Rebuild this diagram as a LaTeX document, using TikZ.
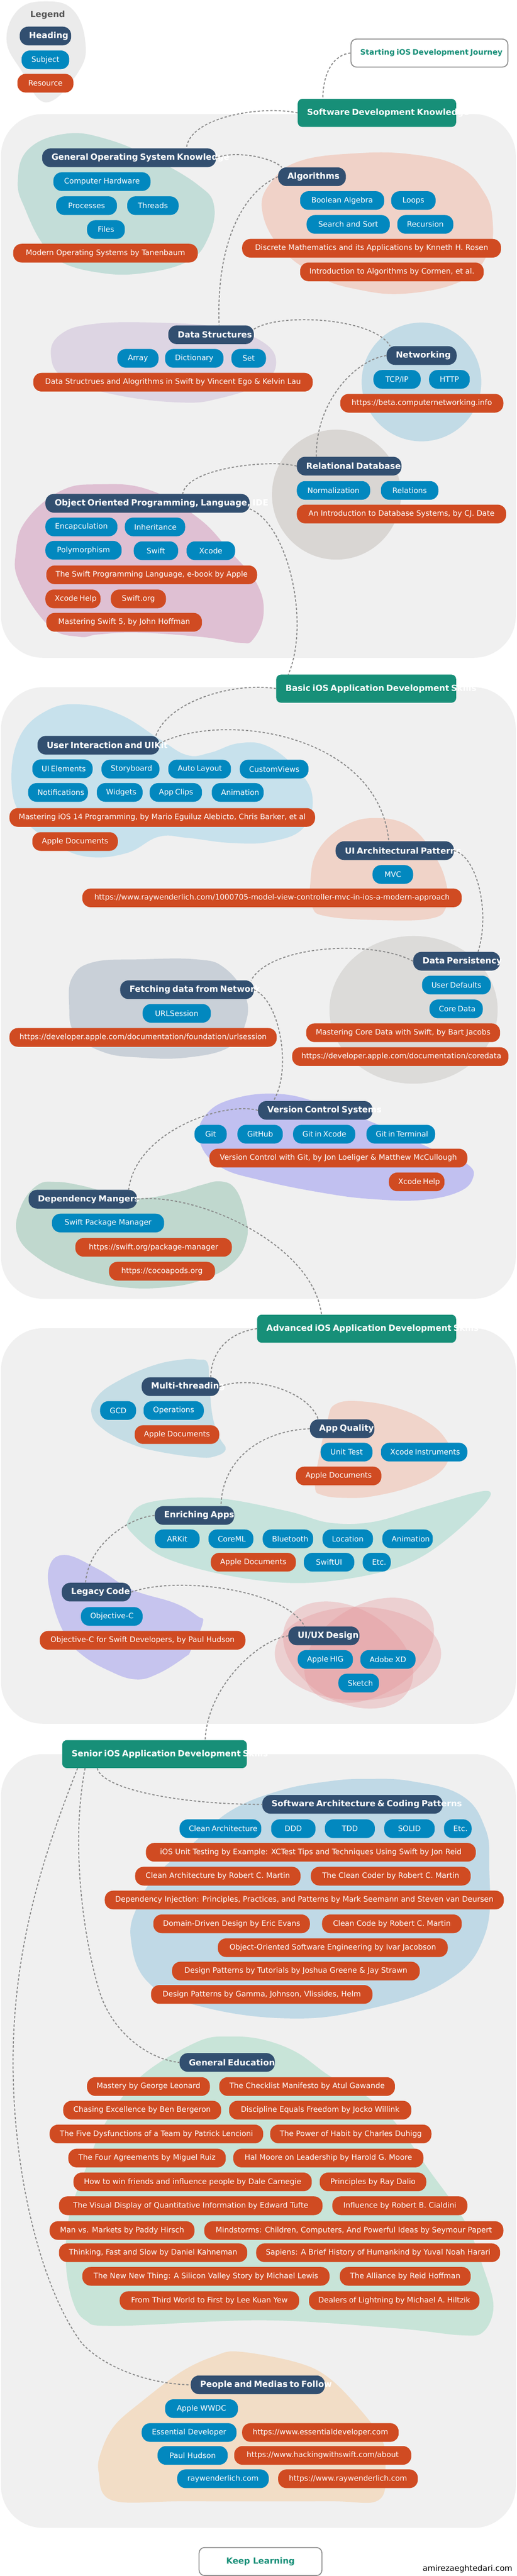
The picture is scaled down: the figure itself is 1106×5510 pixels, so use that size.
\documentclass[tikz,border=0pt]{standalone}
\usepackage{fontspec}
\setmainfont{DejaVu Sans}
\definecolor{secbg}{HTML}{F0F0F0}
\definecolor{legbg}{HTML}{EBEBEB}
\definecolor{legtxt}{HTML}{555555}
\definecolor{hdcol}{HTML}{324F70}
\definecolor{sjcol}{HTML}{0288BF}
\definecolor{rscol}{HTML}{D04B22}
\definecolor{mscol}{HTML}{178F78}
\definecolor{obcol}{HTML}{8C8C8C}
\definecolor{conncol}{HTML}{8A8A8A}
\definecolor{cOS}{HTML}{C3DDD8}
\definecolor{cAlg}{HTML}{F0D2C8}
\definecolor{cDS}{HTML}{DDD5E3}
\definecolor{cNet}{HTML}{C2DBE6}
\definecolor{cRdb}{HTML}{D9D6D3}
\definecolor{cOop}{HTML}{DFC0D3}
\definecolor{cUI}{HTML}{C7E1EC}
\definecolor{cUIA}{HTML}{F0D3C8}
\definecolor{cFet}{HTML}{C9D0D8}
\definecolor{cDP}{HTML}{DCDBD9}
\definecolor{cVCS}{HTML}{C1C0F0}
\definecolor{cDep}{HTML}{C0D8CE}
\definecolor{cMT}{HTML}{C5DDE5}
\definecolor{cAQ}{HTML}{F0D4CA}
\definecolor{cEn}{HTML}{C6E3DC}
\definecolor{cLC}{HTML}{C6C4EE}
\definecolor{cUX}{HTML}{E5959A}
\definecolor{cSA}{HTML}{C0D9E6}
\definecolor{cGE}{HTML}{C8E4D8}
\definecolor{cPP}{HTML}{F2DDC6}
\newcommand\myfs[1]{\fontsize{#1}{#1}\selectfont}
\newcommand\pl[6]{\node[#2] (#1) at (#3,#4) {\hbox to #5pt{\hskip 20pt\hfil #6\hfil\hskip 20pt}};}
\begin{document}
\begin{tikzpicture}[x=1pt,y=-1pt,
  pillbase/.style={anchor=west, rounded corners=18pt, minimum height=40pt, inner xsep=0pt, inner ysep=0pt, text=white, font=\myfs{16}},
  hd/.style={pillbase, fill=hdcol, font=\bfseries\myfs{18}},
  sj/.style={pillbase, fill=sjcol},
  rs/.style={pillbase, fill=rscol},
  ms/.style={anchor=west, rounded corners=10pt, minimum height=60pt, inner xsep=0pt, inner ysep=0pt, fill=mscol, text=white, font=\bfseries\myfs{18}},
  ob/.style={anchor=west, rounded corners=12pt, minimum height=60pt, inner xsep=0pt, inner ysep=0pt, fill=white, draw=obcol, line width=2pt, text=mscol, font=\bfseries\myfs{16}},
  conn/.style={draw=conncol, line width=2.2pt, dash pattern=on 5pt off 4pt}]
\fill[white] (0,0) rectangle (1106,5510);
\useasboundingbox (0,0) rectangle (1106,5510);
% legend
\fill[legbg] plot[smooth cycle, tension=0.7] coordinates {(99,3) (155,20) (182,85) (170,150) (99,219) (45,150) (14,85) (40,20)};
% sections
\fill[secbg, rounded corners=90pt] (2,244) rectangle (1104,1407);
\fill[secbg, rounded corners=90pt] (2,1470) rectangle (1104,2778);
\fill[secbg, rounded corners=90pt] (2,2841) rectangle (1104,3687);
\fill[secbg, rounded corners=90pt] (2,3752) rectangle (1104,5407);
% blobs section 1
\fill[cOS] plot[smooth cycle, tension=0.7] coordinates {(141,286) (230,298) (330,340) (423,395) (458,440) (445,510) (400,560) (300,585) (211,583) (130,560) (90,520) (55,450) (38,390) (60,320)};
\fill[cAlg] plot[smooth cycle, tension=0.7] coordinates {(561,450) (580,390) (640,345) (760,328) (880,330) (980,355) (1035,410) (1054,470) (1045,540) (990,600) (868,628) (760,618) (680,590) (600,530)};
\fill[cDS] plot[smooth cycle, tension=0.7] coordinates {(109,760) (130,715) (200,693) (330,690) (470,700) (560,730) (591,775) (560,820) (470,852) (388,861) (250,845) (140,810)};
\fill[cNet] (902,817) ellipse [x radius=128pt, y radius=127pt];
\fill[cRdb] (720,1058) ellipse [x radius=138pt, y radius=139pt];
\fill[cOop] plot[smooth cycle, tension=0.7] coordinates {(34,1180) (56,1113) (130,1050) (211,1036) (317,1047) (423,1107) (493,1180) (549,1247) (564,1313) (542,1367) (514,1375) (437,1363) (296,1353) (211,1357) (169,1362) (106,1340) (42,1247)};
% blobs section 2
\fill[cUI] plot[smooth cycle, tension=0.7] coordinates {(25,1680) (40,1580) (100,1520) (176,1507) (260,1530) (340,1580) (400,1615) (450,1610) (510,1590) (570,1595) (630,1640) (668,1700) (650,1770) (580,1800) (494,1803) (400,1792) (339,1790) (270,1825) (183,1832) (110,1800) (50,1750)};
\fill[cUIA] plot[smooth cycle, tension=0.7] coordinates {(811,1750) (880,1770) (930,1830) (955,1890) (955,1940) (920,1965) (811,1968) (700,1960) (668,1940) (664,1890) (680,1820) (740,1765)};
\fill[cFet] plot[smooth cycle, tension=0.7] coordinates {(148,2150) (155,2090) (200,2058) (300,2052) (420,2052) (480,2070) (525,2130) (525,2190) (490,2240) (400,2262) (300,2262) (220,2250) (160,2210)};
\fill[cDP] (885,2160) ellipse [x radius=180pt, y radius=158pt];
\fill[cVCS] plot[smooth cycle, tension=0.7] coordinates {(427,2440) (440,2385) (500,2350) (600,2340) (700,2365) (820,2410) (930,2460) (1000,2490) (1012,2520) (980,2550) (900,2567) (800,2565) (700,2553) (560,2525) (470,2495)};
\fill[cDep] plot[smooth cycle, tension=0.7] coordinates {(37,2640) (45,2580) (80,2535) (120,2528) (170,2535) (230,2550) (300,2563) (380,2550) (430,2535) (473,2527) (505,2545) (525,2600) (528,2650) (500,2700) (440,2735) (360,2753) (260,2753) (160,2730) (80,2690)};
% blobs section 3
\fill[cMT] plot[smooth cycle, tension=0.7] coordinates {(423,2908) (444,2915) (448,2960) (455,3030) (470,3075) (483,3100) (460,3115) (423,3117) (340,3105) (282,3089) (225,3060) (196,3025) (210,2985) (260,2950) (330,2920) (390,2908)};
\fill[cAQ] plot[smooth cycle, tension=0.7] coordinates {(719,3003) (780,2998) (860,3015) (920,3045) (955,3080) (963,3110) (940,3150) (880,3180) (800,3200) (741,3204) (690,3198) (674,3180) (682,3120) (700,3040)};
\fill[cEn] plot[smooth cycle, tension=0.6] coordinates {(275,3250) (317,3214) (458,3204) (614,3232) (705,3257) (800,3255) (917,3221) (1043,3189) (1023,3232) (917,3321) (811,3364) (649,3386) (494,3371) (353,3332) (282,3279)};
\fill[cLC] plot[smooth cycle, tension=0.7] coordinates {(138,3326) (211,3357) (282,3400) (374,3429) (423,3457) (434,3471) (409,3529) (395,3545) (338,3580) (289,3592) (232,3573) (176,3540) (141,3500) (113,3429) (104,3357)};
\fill[cUX, opacity=0.35] (766,3537) ellipse [x radius=178pt, y radius=100pt];
\fill[cUX, opacity=0.35, rotate around={30:(790,3530)}] (790,3530) ellipse [x radius=150pt, y radius=97pt];
\fill[cUX, opacity=0.35, rotate around={-30:(745,3540)}] (745,3540) ellipse [x radius=150pt, y radius=100pt];
% blobs section 4
\fill[cSA] plot[smooth cycle, tension=0.7] coordinates {(786,3805) (881,3810) (987,3840) (1037,3907) (1047,3990) (1037,4140) (952,4240) (776,4300) (607,4317) (423,4290) (317,4240) (280,4147) (296,4073) (338,4007) (416,3940) (494,3873) (599,3830) (705,3810)};
\fill[cGE] plot[smooth cycle, tension=0.6] coordinates {(494,4356) (564,4363) (635,4390) (705,4440) (783,4483) (846,4540) (917,4640) (994,4750) (1035,4853) (1056,4933) (1035,4987) (987,4995) (846,4980) (564,4963) (247,4975) (183,4963) (155,4920) (141,4840) (148,4740) (183,4640) (226,4540) (303,4440) (423,4367)};
\fill[cPP] plot[smooth cycle, tension=0.6] coordinates {(511,5030) (635,5053) (705,5087) (776,5160) (818,5220) (825,5270) (811,5347) (700,5350) (400,5350) (240,5348) (211,5287) (218,5240) (246,5187) (303,5137) (388,5073) (458,5040)};
% legend nodes
\node[font=\bfseries\myfs{18}, text=legtxt] (legt) at (102,32) {Legend};
\pl{lh}{hd}{42}{77}{110}{Heading}
\pl{ls}{sj}{46}{128}{102}{Subject}
\pl{lr}{rs}{37}{178}{120}{Resource}
% milestones
\pl{sij}{ob}{750}{113.5}{336}{Starting iOS Development Journey}
\pl{sdk}{ms}{637}{241.5}{339}{Software Development Knowledge}
\pl{basic}{ms}{591}{1473}{385}{Basic iOS Application Development Skills}
\pl{adv}{ms}{550}{2842}{426}{Advanced iOS Application Development Skills}
\pl{sen}{ms}{133}{3752}{395}{Senior iOS Application Development Skills}
\pl{kl}{ob, font=\bfseries\myfs{18}}{425}{5479}{263}{Keep Learning}
% section 1
\pl{gos}{hd}{90}{337.5}{372}{General Operating System Knowledge}
\pl{ch}{sj}{114}{388.5}{208}{Computer Hardware}
\pl{proc}{sj}{120}{440}{130}{Processes}
\pl{thr}{sj}{272}{440}{110}{Threads}
\pl{files}{sj}{186}{491}{81}{Files}
\pl{mos}{rs}{28}{541.5}{395}{Modern Operating Systems by Tanenbaum}
\pl{alg}{hd}{595}{378}{145}{Algorithms}
\pl{ba}{sj}{642}{429}{180}{Boolean Algebra}
\pl{loops}{sj}{837}{429}{95}{Loops}
\pl{ss}{sj}{656}{480}{178}{Search and Sort}
\pl{rec}{sj}{850}{480}{120}{Recursion}
\pl{dm}{rs}{518}{531}{554}{Discrete Mathematics and its Applications by Knneth H. Rosen}
\pl{ita}{rs}{642}{581.5}{393}{Introduction to Algorithms by Cormen, et al.}
\pl{ds}{hd}{360}{716}{183}{Data Structures}
\pl{arr}{sj}{251}{766.5}{88}{Array}
\pl{dict}{sj}{353}{766.5}{125}{Dictionary}
\pl{set}{sj}{495}{766.5}{74}{Set}
\pl{dsb}{rs}{71}{817.5}{598}{Data Structrues and Alogrithms in Swift by Vincent Ego \& Kelvin Lau}
\pl{net}{hd}{827}{760.5}{150}{Networking}
\pl{tcp}{sj}{799}{811.5}{101}{TCP/IP}
\pl{http}{sj}{918}{811.5}{87}{HTTP}
\pl{cni}{rs}{728}{862.5}{349}{https://beta.computernetworking.info}
\pl{rdb}{hd}{635}{997}{224}{Relational Database}
\pl{norm}{sj}{635}{1049}{157}{Normalization}
\pl{rel}{sj}{815}{1049}{123}{Relations}
\pl{idb}{rs}{635}{1099.5}{448}{An Introduction to Database Systems, by CJ. Date}
\pl{oop}{hd}{97}{1076.5}{437}{Object Oriented Programming, Language, IDE}
\pl{enc}{sj}{97}{1127}{154}{Encapculation}
\pl{inh}{sj}{267}{1127}{129}{Inheritance}
\pl{poly}{sj}{97}{1177}{163}{Polymorphism}
\pl{swift}{sj}{286}{1178}{95}{Swift}
\pl{xcode}{sj}{399}{1178}{104}{Xcode}
\pl{tspl}{rs}{99}{1229.5}{451}{The Swift Programming Language, e-book by Apple}
\pl{xhA}{rs}{97}{1281}{118}{Xcode Help}
\pl{sorg}{rs}{237}{1281}{118}{Swift.org}
\pl{msf}{rs}{99}{1331}{333}{Mastering Swift 5, by John Hoffman}
% section 2
\pl{uik}{hd}{80}{1594}{261}{User Interaction and UIKit}
\pl{uie}{sj}{69}{1644.5}{129}{UI Elements}
\pl{sb}{sj}{217}{1645}{124}{Storyboard}
\pl{al}{sj}{360}{1645}{134}{Auto Layout}
\pl{cv}{sj}{513}{1645}{147}{CustomViews}
\pl{notif}{sj}{60}{1695}{128}{Notifications}
\pl{wid}{sj}{207}{1695}{98}{Widgets}
\pl{clips}{sj}{320}{1695}{112}{App Clips}
\pl{animA}{sj}{453}{1695}{111}{Animation}
\pl{mios}{rs}{20}{1748.5}{654}{Mastering iOS 14 Programming, by Mario Eguiluz Alebicto, Chris Barker, et al}
\pl{adA}{rs}{69}{1800}{183}{Apple Documents}
\pl{uia}{hd}{718}{1819.5}{253}{UI Architectural Patterns}
\pl{mvc}{sj}{797}{1870.5}{87}{MVC}
\pl{rwm}{rs}{176}{1920.5}{812}{https://www.raywenderlich.com/1000705-model-view-controller-mvc-in-ios-a-modern-approach}
\pl{fetch}{hd}{257}{2117}{286}{Fetching data from Network}
\pl{urls}{sj}{305}{2167.5}{146}{URLSession}
\pl{urlsd}{rs}{20}{2219}{572}{https://developer.apple.com/documentation/foundation/urlsession}
\pl{dp}{hd}{884}{2056}{186}{Data Persistency}
\pl{ud}{sj}{903}{2107}{147}{User Defaults}
\pl{cd}{sj}{919}{2158}{114}{Core Data}
\pl{mcd}{rs}{655}{2209}{415}{Mastering Core Data with Swift, by Bart Jacobs}
\pl{cdd}{rs}{625}{2260}{463}{https://developer.apple.com/documentation/coredata}
\pl{vcs}{hd}{552}{2375}{245}{Version Control Systems}
\pl{git}{sj}{416}{2426}{69}{Git}
\pl{gh}{sj}{508}{2426}{97}{GitHub}
\pl{gix}{sj}{627}{2426}{133}{Git in Xcode}
\pl{gitt}{sj}{784}{2426}{147}{Git in Terminal}
\pl{vcg}{rs}{448}{2477}{552}{Version Control with Git, by Jon Loeliger \& Matthew McCullough}
\pl{xhB}{rs}{832}{2528}{119}{Xcode Help}
\pl{dep}{hd}{61}{2565}{232}{Dependency Mangers}
\pl{spm}{sj}{111}{2616}{240}{Swift Package Manager}
\pl{spmu}{rs}{161}{2668}{335}{https://swift.org/package-manager}
\pl{cp}{rs}{233}{2719}{227}{https://cocoapods.org}
% section 3
\pl{mt}{hd}{303}{2966}{166}{Multi-threading}
\pl{gcd}{sj}{214}{3017}{77}{GCD}
\pl{ops}{sj}{307}{3017}{129}{Operations}
\pl{adB}{rs}{288}{3068.5}{181}{Apple Documents}
\pl{aq}{hd}{663}{3056}{138}{App Quality}
\pl{ut}{sj}{686}{3106}{111}{Unit Test}
\pl{xi}{sj}{815}{3106}{185}{Xcode Instruments}
\pl{adC}{rs}{633}{3157}{183}{Apple Documents}
\pl{en}{hd}{331}{3241.5}{170}{Enriching Apps}
\pl{ark}{sj}{331}{3291.5}{96}{ARKit}
\pl{cml}{sj}{446}{3291.5}{96}{CoreML}
\pl{bt}{sj}{562}{3291.5}{108}{Bluetooth}
\pl{loc}{sj}{690}{3291.5}{108}{Location}
\pl{animB}{sj}{818}{3291.5}{108}{Animation}
\pl{adD}{rs}{451}{3341.5}{182}{Apple Documents}
\pl{sui}{sj}{650}{3341.5}{108}{SwiftUI}
\pl{etcA}{sj}{776}{3341.5}{60}{Etc.}
\pl{lc}{hd}{132}{3405.5}{148}{Legacy Code}
\pl{objc}{sj}{173}{3457.5}{132}{Objective-C}
\pl{objcb}{rs}{85}{3508.5}{440}{Objective-C for Swift Developers, by Paul Hudson}
\pl{ux}{hd}{617}{3499}{152}{UI/UX Design}
\pl{hig}{sj}{637}{3549.5}{118}{Apple HIG}
\pl{xd}{sj}{771}{3549.5}{118}{Adobe XD}
\pl{sk}{sj}{724}{3600}{87}{Sketch}
% section 4
\pl{swa}{hd}{561}{3859.5}{386}{Software Architecture \& Coding Patterns}
\pl{ca}{sj}{384}{3911.5}{175}{Clean Architecture}
\pl{ddd}{sj}{580}{3911.5}{95}{DDD}
\pl{tdd}{sj}{695}{3911.5}{107}{TDD}
\pl{solid}{sj}{822}{3911.5}{108}{SOLID}
\pl{etcB}{sj}{950}{3911.5}{59}{Etc.}
\pl{bA}{rs}{312}{3962}{706}{iOS Unit Testing by Example: XCTest Tips and Techniques Using Swift by Jon Reid}
\pl{bB}{rs}{289}{4013}{354}{Clean Architecture by Robert C. Martin}
\pl{bC}{rs}{665}{4013}{342}{The Clean Coder by Robert C. Martin}
\pl{bD}{rs}{224}{4064}{854}{Dependency Injection: Principles, Practices, and Patterns by Mark Seemann and Steven van Deursen}
\pl{bE}{rs}{328}{4115}{335}{Domain-Driven Design by Eric Evans}
\pl{bF}{rs}{689}{4115}{299}{Clean Code by Robert C. Martin}
\pl{bG}{rs}{466}{4166}{492}{Object-Oriented Software Engineering by Ivar Jacobson}
\pl{bH}{rs}{368}{4216}{530}{Design Patterns by Tutorials by Joshua Greene \& Jay Strawn}
\pl{bI}{rs}{323}{4266}{474}{Design Patterns by Gamma, Johnson, Vlissides, Helm}
\pl{ge}{hd}{384}{4411.5}{204}{General Education}
\pl{gA}{rs}{186}{4463}{263}{Mastery by George Leonard}
\pl{gB}{rs}{469}{4463}{376}{The Checklist Manifesto by Atul Gawande}
\pl{gC}{rs}{135}{4513.5}{338}{Chasing Excellence by Ben Bergeron}
\pl{gD}{rs}{490}{4513.5}{390}{Discipline Equals Freedom by Jocko Willink}
\pl{gE}{rs}{106}{4564.5}{457}{The Five Dysfunctions of a Team by Patrick Lencioni}
\pl{gF}{rs}{578}{4564.5}{345}{The Power of Habit by Charles Duhigg}
\pl{gG}{rs}{146}{4616}{337}{The Four Agreements by Miguel Ruiz}
\pl{gH}{rs}{499}{4616}{407}{Hal Moore on Leadership by Harold G. Moore}
\pl{gI}{rs}{157}{4667}{510}{How to win friends and influence people by Dale Carnegie}
\pl{gJ}{rs}{684}{4667}{228}{Principles by Ray Dalio}
\pl{gK}{rs}{126}{4718}{564}{The Visual Display of Quantitative Information by Edward Tufte}
\pl{gL}{rs}{711}{4718}{289}{Influence by Robert B. Cialdini}
\pl{gM}{rs}{106}{4771}{310}{Man vs. Markets by Paddy Hirsch}
\pl{gN}{rs}{437}{4771}{640}{Mindstorms: Children, Computers, And Powerful Ideas by Seymour Papert}
\pl{gO}{rs}{126}{4818.5}{403}{Thinking, Fast and Slow by Daniel Kahneman}
\pl{gP}{rs}{548}{4818.5}{522}{Sapiens: A Brief History of Humankind by Yuval Noah Harari}
\pl{gQ}{rs}{176}{4869}{529}{The New New Thing: A Silicon Valley Story by Michael Lewis}
\pl{gR}{rs}{727}{4869}{280}{The Alliance by Reid Hoffman}
\pl{gS}{rs}{256}{4921}{384}{From Third World to First by Lee Kuan Yew}
\pl{gT}{rs}{661}{4921}{365}{Dealers of Lightning by Michael A. Hiltzik}
\pl{ppl}{hd}{408}{5101}{287}{People and Medias to Follow}
\pl{wwdc}{sj}{353}{5152}{156}{Apple WWDC}
\pl{ed}{sj}{303}{5203}{203}{Essential Developer}
\pl{edu}{rs}{518}{5203}{335}{https://www.essentialdeveloper.com}
\pl{ph}{sj}{337}{5252}{150}{Paul Hudson}
\pl{hws}{rs}{501}{5252}{379}{https://www.hackingwithswift.com/about}
\pl{rw}{sj}{379}{5302}{196}{raywenderlich.com}
\pl{rwu}{rs}{595}{5302}{299}{https://www.raywenderlich.com}
\node[anchor=east, font=\myfs{17}, text=black] (credit) at (1100,5495) {amirezaeghtedari.com};
% connectors
\draw[conn] (sij.west) .. controls (718,116) and (691,150) .. ([xshift=54pt]sdk.north west);
\draw[conn] (sdk.west) .. controls (560,225) and (405,250) .. ([xshift=309pt]gos.north west);
\draw[conn] (gos.east) .. controls (500,322) and (580,335) .. ([xshift=8pt]alg.north west);
\draw[conn] (alg.west) .. controls (520,410) and (462,520) .. ([xshift=109pt]ds.north west);
\draw[conn] ([yshift=12pt]ds.east) .. controls (600,668) and (800,680) .. ([xshift=8pt]net.north west);
\draw[conn] (net.west) .. controls (760,770) and (675,860) .. ([xshift=42pt]rdb.north west);
\draw[conn] (rdb.west) .. controls (580,982) and (400,1000) .. ([xshift=294pt]oop.north west);
\draw[conn] ([yshift=-12pt]oop.east) .. controls (615,1120) and (665,1330) .. ([xshift=26pt]basic.north west);
\draw[conn] (basic.west) .. controls (500,1458) and (360,1500) .. ([xshift=-8pt]uik.north east);
\draw[conn] ([yshift=4pt]uik.east) .. controls (480,1520) and (810,1570) .. ([xshift=114pt]uia.north west);
\draw[conn] (uia.east) .. controls (1020,1830) and (1050,1950) .. ([xshift=139pt]dp.north west);
\draw[conn] (dp.west) .. controls (800,2010) and (580,2020) .. ([xshift=-6pt]fetch.north east);
\draw[conn] (fetch.east) .. controls (600,2140) and (625,2290) .. ([xshift=33pt]vcs.north west);
\draw[conn] (vcs.west) .. controls (480,2355) and (290,2420) .. ([xshift=-18pt]dep.north east);
\draw[conn] (dep.east) .. controls (420,2550) and (670,2660) .. ([xshift=138pt]adv.north west);
\draw[conn] (adv.west) .. controls (490,2850) and (452,2890) .. ([xshift=148pt]mt.north west);
\draw[conn] (mt.east) .. controls (540,2940) and (660,2975) .. ([xshift=18pt]aq.north west);
\draw[conn] (aq.west) .. controls (560,3060) and (475,3120) .. ([xshift=142pt]en.north west);
\draw[conn] (en.west) .. controls (280,3245) and (190,3300) .. ([xshift=51pt]lc.north west);
\draw[conn] (lc.east) .. controls (380,3370) and (610,3400) .. ([xshift=35pt]ux.north west);
\draw[conn] (ux.west) .. controls (560,3505) and (445,3600) .. ([xshift=306pt]sen.north west);
\draw[conn] ([xshift=75pt]sen.south west) .. controls (220,3830) and (400,3860) .. (swa.west);
\draw[conn] ([xshift=49pt]sen.south west) .. controls (150,3950) and (180,4150) .. (212,4257) .. controls (240,4350) and (320,4405) .. (ge.west);
\draw[conn] ([xshift=33pt]sen.south west) .. controls (100,3950) and (30,4150) .. (28,4400) .. controls (26,4650) and (90,4900) .. (176,5013) .. controls (230,5070) and (330,5100) .. (ppl.west);
\end{tikzpicture}
\end{document}
